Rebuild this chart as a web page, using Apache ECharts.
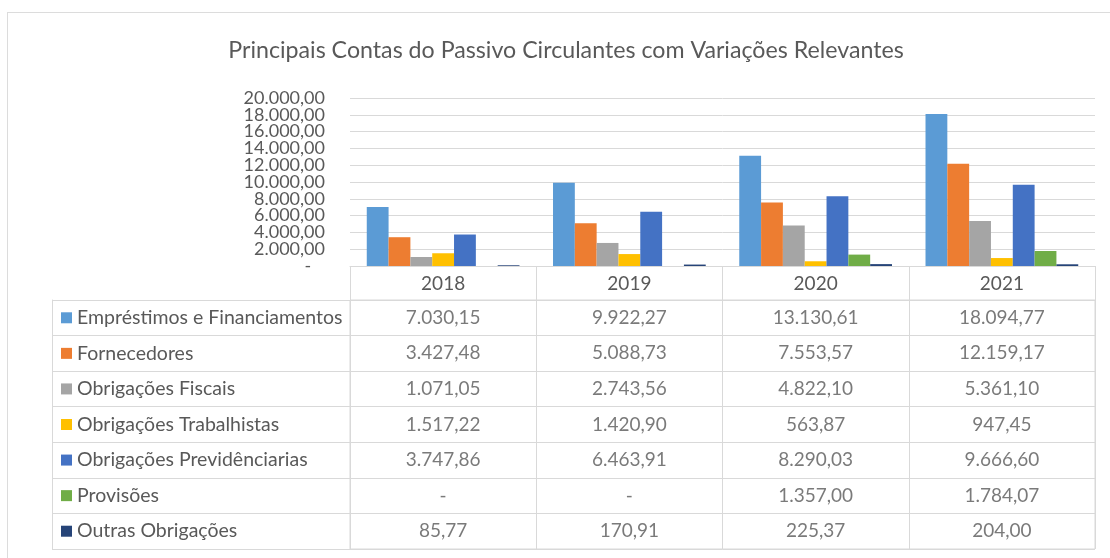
<!DOCTYPE html>
<html>
<head>
<meta charset="utf-8">
<script src="https://cdn.jsdelivr.net/npm/echarts@6/dist/echarts.min.js"></script>
<style>
  html, body { margin: 0; padding: 0; background: #fff; }
  #frame { position: absolute; left: 7px; top: 12px; width: 1110px; height: 560px;
           border-left: 1px solid #dcdcdc; border-top: 1px solid #dcdcdc; }
  #chart { position: absolute; left: 0; top: 0; width: 1110px; height: 558px; }
</style>
</head>
<body>
<div id="frame"></div>
<div id="chart"></div>
<script>
  // dados do gráfico
  const years = ['2018', '2019', '2020', '2021']
  const names = [
    'Empréstimos e Financiamentos',
    'Fornecedores',
    'Obrigações Fiscais',
    'Obrigações Trabalhistas',
    'Obrigações Previdênciarias',
    'Provisões',
    'Outras Obrigações'
  ]
  const emprestimos = [7030.15, 9922.27, 13130.61, 18094.77]
  const fornecedores = [3427.48, 5088.73, 7553.57, 12159.17]
  const fiscais = [1071.05, 2743.56, 4822.10, 5361.10]
  const trabalhistas = [1517.22, 1420.90, 563.87, 947.45]
  const previdenciarias = [3747.86, 6463.91, 8290.03, 9666.60]
  const provisoes = [null, null, 1357.00, 1784.07]
  const outras = [85.77, 170.91, 225.37, 204.00]
  // rótulos do eixo: divididos em dois grupos para não se esconderem mutuamente
  const ticksEven = [0, 4000, 8000, 12000, 16000, 20000]
  const ticksOdd = [2000, 6000, 10000, 14000, 18000]

  const values = [emprestimos, fornecedores, fiscais, trabalhistas, previdenciarias, provisoes, outras]
  const colors = ['#5B9BD5', '#ED7D31', '#A5A5A5', '#FFC000', '#4472C4', '#70AD47', '#264478']
  const textColor = '#595959'
  const lineColor = '#d9d9d9'
  const font = 'Lato'

  // 12345.6 -> "12.345,60"
  function fmt (v) {
    if (v === null || v === undefined || v === 0) return '-'
    let parts = v.toFixed(2).split('.')
    let int = parts[0].replace(/\B(?=(\d{3})+(?!\d))/g, '.')
    return int + ',' + parts[1]
  }

  let rich = {t: {color: textColor, fontFamily: font, fontSize: 19.5, padding: [0, 0, 0, 5]}}
  colors.forEach((c, i) => {
    rich['m' + i] = {width: 11, height: 11, backgroundColor: c}
  })

  let barSeries = names.map((n, i) => ({
    name: n,
    type: 'bar',
    xAxisIndex: 0,
    yAxisIndex: 0,
    barGap: 0,
    barCategoryGap: '18%',
    itemStyle: {color: colors[i]},
    data: values[i].map(v => v === null ? 0 : v)
  }))

  // células da tabela
  let cells = []
  values.forEach((row, r) => {
    row.forEach((v, c) => {
      cells.push([c, r, v])
    })
  })

  function labelAxis (ticks) {
    return {
      gridIndex: 0,
      type: 'value',
      min: 0,
      max: 20000,
      position: 'left',
      axisLine: {show: false},
      axisTick: {show: false},
      splitLine: {show: false},
      axisLabel: {
        color: textColor,
        fontFamily: font,
        fontSize: 18,
        margin: 25,
        customValues: ticks,
        formatter: v => v === 0 ? '-   ' : fmt(v)
      }
    }
  }

  let chart = echarts.init(document.getElementById('chart'), null, {renderer: 'canvas'})
  chart.setOption({
    backgroundColor: 'transparent',
    animation: false,
    title: {
      text: 'Principais Contas do Passivo Circulantes com Variações Relevantes',
      left: 561,
      textAlign: 'center',
      top: 34,
      textStyle: {color: textColor, fontFamily: font, fontSize: 23.2, fontWeight: 'normal'}
    },
    grid: [
      {left: 350, right: 15, top: 98, bottom: 292},
      {left: 350, right: 15, top: 300, bottom: 9, show: true, borderColor: lineColor, borderWidth: 1}
    ],
    xAxis: [
      {
        gridIndex: 0,
        type: 'category',
        data: years,
        axisLine: {lineStyle: {color: lineColor}},
        axisTick: {show: false},
        axisLabel: {show: false}
      },
      {
        gridIndex: 1,
        type: 'category',
        data: years,
        position: 'top',
        axisLine: {lineStyle: {color: lineColor}},
        axisTick: {show: true, length: 34, lineStyle: {color: lineColor}},
        axisLabel: {color: textColor, fontFamily: font, fontSize: 19, margin: 7},
        splitLine: {show: true, lineStyle: {color: lineColor}}
      }
    ],
    yAxis: [
      {
        gridIndex: 0,
        type: 'value',
        min: 0,
        max: 20000,
        interval: 2000,
        axisLine: {show: false},
        axisTick: {show: false},
        axisLabel: {show: false},
        splitLine: {lineStyle: {color: lineColor}}
      },
      labelAxis(ticksEven),
      labelAxis(ticksOdd),
      {
        gridIndex: 1,
        type: 'category',
        data: names,
        inverse: true,
        axisLine: {show: true, lineStyle: {color: lineColor}},
        axisTick: {show: true, length: 298, lineStyle: {color: lineColor}},
        splitLine: {show: true, lineStyle: {color: lineColor}},
        axisLabel: {
          align: 'left',
          margin: 289,
          formatter: (v, i) => '{m' + i + '|}{t|' + v + '}',
          rich: rich
        }
      },
      {
        gridIndex: 1,
        type: 'category',
        data: names,
        position: 'left',
        offset: 298,
        axisLine: {show: true, lineStyle: {color: lineColor}},
        axisTick: {show: false},
        axisLabel: {show: false}
      }
    ],
    series: barSeries.concat([{
      name: 'tabela',
      type: 'scatter',
      xAxisIndex: 1,
      yAxisIndex: 3,
      symbolSize: 1,
      itemStyle: {color: 'rgba(0,0,0,0)'},
      label: {
        show: true,
        position: 'inside',
        color: textColor,
        fontFamily: font,
        fontSize: 19,
        formatter: p => fmt(p.value[2])
      },
      data: cells
    }])
  })
</script>
</body>
</html>
